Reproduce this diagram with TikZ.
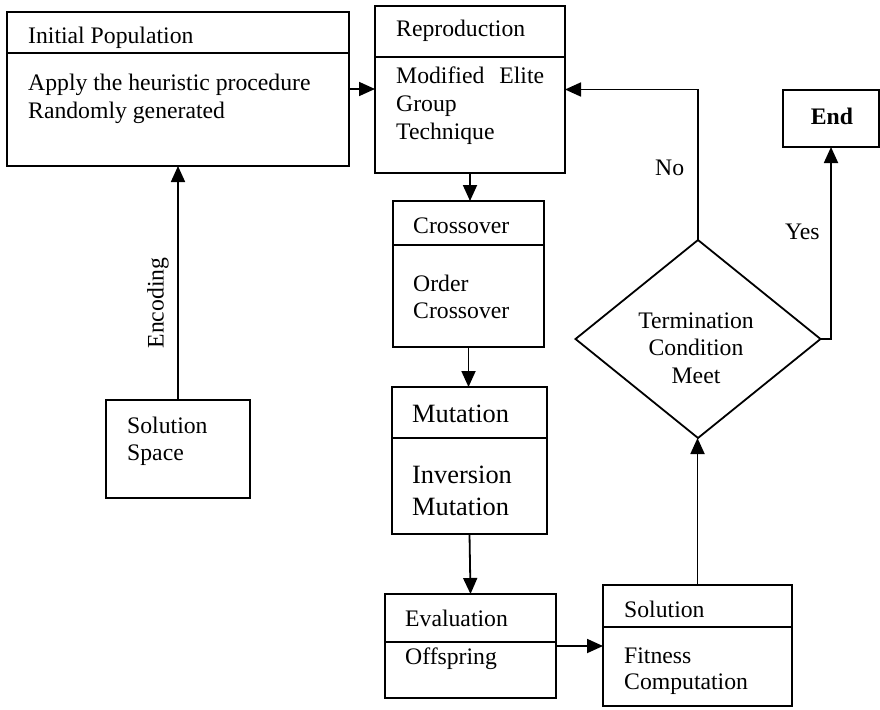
\documentclass[tikz,border=0pt]{standalone}
\usepackage{fontspec}
\setmainfont{Liberation Serif}
\usetikzlibrary{shapes.geometric,arrows.meta}
\begin{document}
\begin{tikzpicture}[x=1pt,y=-1pt,
  box/.style={draw,line width=1.8pt,rectangle,inner sep=0pt,outer sep=0pt,anchor=north west},
  txt/.style={anchor=base west,inner sep=0pt,font=\fontsize{23.7}{26.5}\selectfont},
  bigtxt/.style={anchor=base west,inner sep=0pt,font=\fontsize{26.4}{29}\selectfont},
  link/.style={line width=1.8pt,-{Triangle[length=16pt,width=14pt]}},
  rule/.style={line width=1.8pt}]
\useasboundingbox (0,0) rectangle (880,709);

% boxes
\node[box,minimum width=342pt,minimum height=154pt] (init) at (7,12) {};
\node[box,minimum width=190pt,minimum height=167pt] (repro) at (375,6) {};
\node[box,minimum width=151pt,minimum height=146pt] (cross) at (393,201) {};
\node[box,minimum width=155pt,minimum height=147pt] (mut) at (392,387) {};
\node[box,minimum width=171pt,minimum height=104pt] (eval) at (385,594) {};
\node[box,minimum width=189pt,minimum height=121pt] (sol) at (603,585) {};
\node[box,minimum width=144pt,minimum height=98pt] (space) at (106,400) {};
\node[box,minimum width=96pt,minimum height=57pt] (end) at (783,90) {};
\node[draw,diamond,line width=1.8pt,inner sep=0pt,outer sep=0pt,
      minimum width=245pt,minimum height=198pt] (dia) at (698,339) {};

% header dividers
\draw[rule] (init.west |- 0,53) -- (init.east |- 0,53);
\draw[rule] (repro.west |- 0,57) -- (repro.east |- 0,57);
\draw[rule] (cross.west |- 0,245) -- (cross.east |- 0,245);
\draw[rule] (mut.west |- 0,438) -- (mut.east |- 0,438);
\draw[rule] (eval.west |- 0,642) -- (eval.east |- 0,642);
\draw[rule] (sol.west |- 0,627) -- (sol.east |- 0,627);

% texts
\node[txt] (initA) at (28,44) {Initial Population};
\node[txt] (initB) at (28,90) {Apply the heuristic procedure};
\node[txt] (initC) at (28,118) {Randomly generated};

\node[txt] (repA) at (396,37) {Reproduction};
\node[txt] (repB) at (396,83) {Modified\hspace{15pt}Elite};
\node[txt] (repC) at (396,111) {Group};
\node[txt] (repD) at (396,139) {Technique};

\node[txt] (crA) at (413,233) {Crossover};
\node[txt] (crB) at (413,291) {Order};
\node[txt] (crC) at (413,318) {Crossover};

\node[bigtxt] (muA) at (412,422) {Mutation};
\node[bigtxt] (muB) at (412,483) {Inversion};
\node[bigtxt] (muC) at (412,515) {Mutation};

\node[txt] (evA) at (405,626) {Evaluation};
\node[txt] (evB) at (405,664) {Offspring};

\node[txt] (soA) at (624,617) {Solution};
\node[txt] (soB) at (624,663) {Fitness};
\node[txt] (soC) at (624,689) {Computation};

\node[txt] (spA) at (127,433) {Solution};
\node[txt] (spB) at (127,460) {Space};

\node[txt,anchor=base] (tmA) at (696,328) {Termination};
\node[txt,anchor=base] (tmB) at (696,355) {Condition};
\node[txt,anchor=base] (tmC) at (696,383) {Meet};

\node[txt,anchor=base,font=\fontsize{23.7}{26.5}\selectfont\bfseries] (endT) at (832,124) {End};

% connectors
\draw[link] (init.east) -- (init.east -| repro.west);
\draw[link] (space.north) -- (space.north |- init.south);
\draw[link] (repro.south) -- (repro.south |- cross.north);
\draw[link] (cross.south) -- (cross.south |- mut.north);
\draw[link] (mut.south) -- (eval.north);
\draw[link] (eval.east) -- (eval.east -| sol.west);
\draw[link] (sol.north) -- (sol.north |- dia.south);
\draw[link] (dia.north) |- (repro.east);
\draw[link] (dia.east) -| (end.south);

% edge labels
\node[txt] (noL) at (655,175) {No};
\node[txt] (yesL) at (785,239) {Yes};
\node[inner sep=0pt,rotate=90,font=\fontsize{23.7}{26.5}\selectfont] (encL) at (158,303) {Encoding};
\end{tikzpicture}
\end{document}
